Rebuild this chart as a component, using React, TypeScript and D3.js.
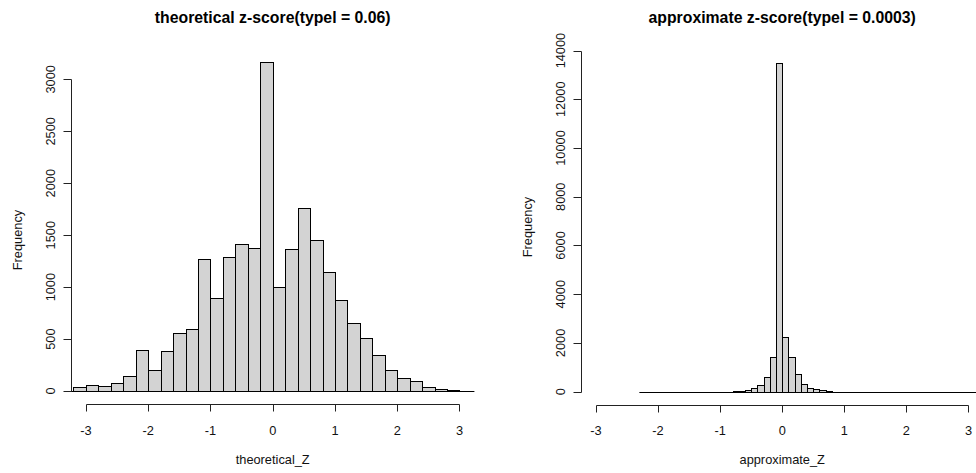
import React from 'react';
import * as d3 from 'd3';

// Theoretical z-scores: histogram with 0.2-wide bins starting at -3.2
const theoreticalStart = -3.2;
const theoreticalBinWidth = 0.2;
const theoreticalCounts = [
  36, 61, 51, 77, 147, 392, 202, 382, 555, 594, 1270, 895, 1287, 1412, 1373, 3169,
  1004, 1364, 1758, 1453, 1145, 879, 651, 507, 343, 202, 122, 93, 36, 16, 7,
];
// Extent of the sample (empty bins beyond the drawn bars)
const theoreticalSupport = [-3.4, 3.4];
const theoreticalYTicks = [0, 500, 1000, 1500, 2000, 2500, 3000];

// Approximate z-scores: histogram with 0.1-wide bins, non-empty from -0.8 to 0.8
const approximateStart = -0.8;
const approximateBinWidth = 0.1;
const approximateCounts = [
  20, 30, 70, 150, 270, 595, 1420, 13480, 2240, 1420, 730, 310, 150, 95, 55, 25,
];
const approximateSupport = [-2.3, 21.1];
const approximateYTicks = [0, 2000, 4000, 6000, 8000, 10000, 12000, 14000];

const xTicks = [-3, -2, -1, 0, 1, 2, 3];
const xLimits = [-3, 3];

const FONT = '"Liberation Sans", Arial, Helvetica, sans-serif';

type PanelProps = {
  title: string;
  xLabel: string;
  start: number;
  binWidth: number;
  counts: number[];
  support: number[];
  yTicks: number[];
  left: number;
  right: number;
  top: number;
  bottom: number;
  yLabelCenter: number;
  id: string;
};

const crisp = (v: number) => Math.round(v) + 0.5;

function HistPanel(p: PanelProps) {
  const pad = (xLimits[1] - xLimits[0]) * 0.04;
  const x = d3.scaleLinear().domain([xLimits[0] - pad, xLimits[1] + pad]).range([p.left, p.right]);
  const maxCount = d3.max(p.counts) as number;
  const y = d3
    .scaleLinear()
    .domain([-0.04 * maxCount, 1.04 * maxCount])
    .range([p.bottom, p.top]);

  const bins = p.counts.map((c, i) => ({
    x0: p.start + i * p.binWidth,
    x1: p.start + (i + 1) * p.binWidth,
    count: c,
  }));

  const y0 = crisp(y(0));
  const axisY = crisp(p.bottom);
  const axisX = crisp(p.left);
  const cx = (p.left + p.right) / 2;

  return (
    <g>
      <defs>
        <clipPath id={p.id}>
          <rect x={p.left} y={p.top} width={p.right - p.left} height={p.bottom - p.top} />
        </clipPath>
      </defs>
      <text
        x={cx}
        y={23}
        textAnchor="middle"
        fontFamily={FONT}
        fontWeight="bold"
        fontSize={15.8}
        fill="#000"
      >
        {p.title}
      </text>

      <g clipPath={`url(#${p.id})`}>
        {/* empty bins across the sample range collapse to a flat line at zero */}
        <line
          x1={x(p.support[0])}
          x2={x(p.support[1])}
          y1={y0}
          y2={y0}
          stroke="#000"
          strokeWidth={1}
        />
        {bins.map((b, i) => {
          const xa = crisp(x(b.x0));
          const xb = crisp(x(b.x1));
          const yt = crisp(y(b.count));
          return (
            <rect
              key={i}
              x={xa}
              y={yt}
              width={xb - xa}
              height={Math.max(0, y0 - yt)}
              fill="#d3d3d3"
              stroke="#000"
              strokeWidth={1}
            />
          );
        })}
      </g>

      {/* x axis */}
      <line
        x1={crisp(x(xTicks[0]))}
        x2={crisp(x(xTicks[xTicks.length - 1]))}
        y1={axisY}
        y2={axisY}
        stroke="#222"
      />
      {xTicks.map((t) => (
        <g key={t}>
          <line x1={crisp(x(t))} x2={crisp(x(t))} y1={axisY} y2={axisY + 7} stroke="#222" />
          <text
            x={x(t)}
            y={435}
            textAnchor="middle"
            fontFamily={FONT}
            fontSize={12.8}
            fill="#111"
          >
            {t}
          </text>
        </g>
      ))}
      <text x={cx} y={464} textAnchor="middle" fontFamily={FONT} fontSize={12.8} fill="#111">
        {p.xLabel}
      </text>

      {/* y axis */}
      <line
        x1={axisX}
        x2={axisX}
        y1={crisp(y(p.yTicks[0]))}
        y2={crisp(y(p.yTicks[p.yTicks.length - 1]))}
        stroke="#222"
      />
      {p.yTicks.map((t) => (
        <g key={t}>
          <line x1={axisX - 8} x2={axisX} y1={crisp(y(t))} y2={crisp(y(t))} stroke="#222" />
          <text
            transform={`translate(${p.left - 16},${y(t)}) rotate(-90)`}
            textAnchor="middle"
            fontFamily={FONT}
            fontSize={12.8}
            fill="#111"
          >
            {t}
          </text>
        </g>
      ))}
      <text
        transform={`translate(${p.left - 49},${p.yLabelCenter}) rotate(-90)`}
        textAnchor="middle"
        fontFamily={FONT}
        fontSize={12.8}
        fill="#111"
      >
        Frequency
      </text>
    </g>
  );
}

export default function App() {
  return (
    <svg
      width={976}
      height={473}
      style={{ position: 'absolute', left: 0, top: 0, background: '#fff' }}
    >
      <rect width={976} height={473} fill="#fff" />
      <HistPanel
        id="clip-theoretical"
        title="theoretical z-score(typel = 0.06)"
        xLabel="theoretical_Z"
        start={theoreticalStart}
        binWidth={theoreticalBinWidth}
        counts={theoreticalCounts}
        support={theoreticalSupport}
        yTicks={theoreticalYTicks}
        left={71}
        right={474.4}
        top={48.6}
        bottom={404.2}
        yLabelCenter={240}
      />
      <HistPanel
        id="clip-approximate"
        title="approximate z-score(typel = 0.0003)"
        xLabel="approximate_Z"
        start={approximateStart}
        binWidth={approximateBinWidth}
        counts={approximateCounts}
        support={approximateSupport}
        yTicks={approximateYTicks}
        left={581}
        right={983.4}
        top={50.1}
        bottom={404.8}
        yLabelCenter={227}
      />
    </svg>
  );
}
